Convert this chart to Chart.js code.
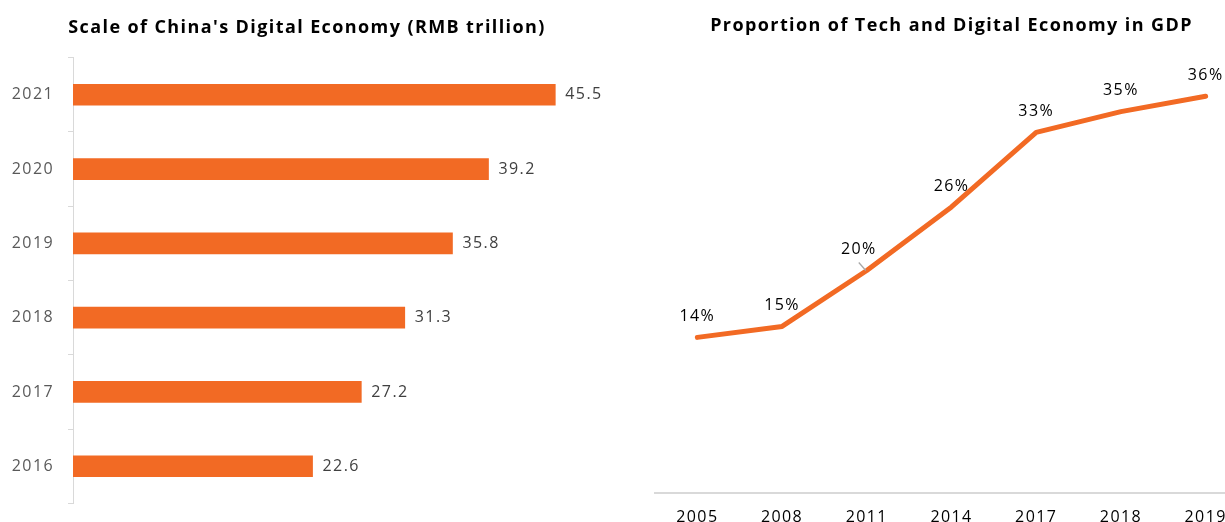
<!DOCTYPE html>
<html>
<head>
<meta charset="utf-8">
<script src="https://cdn.jsdelivr.net/npm/chart.js@4/dist/chart.umd.min.js"></script>
<style>
  html, body { margin: 0; padding: 0; background: #fff; overflow: hidden; }
  #wrap { position: relative; width: 1225px; height: 522px; overflow: hidden; }
  #scaleBox { position: absolute; left: 0; top: 0; width: 620px; height: 527px; }
  #shareBox { position: absolute; left: 640px; top: 0; width: 623px; height: 540px; }
</style>
</head>
<body>
<div id="wrap">
  <div id="scaleBox"><canvas id="scaleChart"></canvas></div>
  <div id="shareBox"><canvas id="shareChart"></canvas></div>
</div>
<script>
// left chart: scale of digital economy
const scaleYears = ["2016", "2017", "2018", "2019", "2020", "2021"];
const scaleValues = [22.6, 27.2, 31.3, 35.8, 39.2, 45.5];

// right chart: share of GDP
const shareYears = ["2005", "2008", "2011", "2014", "2017", "2018", "2019"];
const shareValues = [14.2, 15.2, 20.3, 26.1, 32.9, 34.8, 36.2];

const ORANGE = "#F26A24";
const FONT = "'Open Sans', 'DejaVu Sans', sans-serif";

// the original text is a bit wide, spread it out
const wideText = {
  id: "wideText",
  beforeLayout(chart) {
    chart.ctx.letterSpacing = "1.4px";
  },
  beforeDraw(chart) {
    chart.ctx.letterSpacing = "1.4px";
  },
};

// simple value labels, no datalabels plugin available
const valueLabels = {
  id: "valueLabels",
  afterDatasetsDraw(chart, args, opts) {
    const ctx = chart.ctx;
    const meta = chart.getDatasetMeta(0);
    const values = chart.data.datasets[0].data;
    ctx.save();
    ctx.font = "16px " + FONT;
    ctx.fillStyle = opts.color;
    ctx.textBaseline = "middle";
    meta.data.forEach(function (el, i) {
      if (opts.mode === "bar") {
        ctx.textAlign = "left";
        ctx.fillText(values[i].toFixed(1), el.x + 10, el.y);
      } else {
        const shift = (opts.shift && opts.shift[i]) || 0;
        ctx.textAlign = "center";
        ctx.fillText(Math.round(values[i]) + "%", el.x + shift, el.y - 21);
        if (shift) {
          // leader line for shifted label
          ctx.strokeStyle = "#a6a6a6";
          ctx.lineWidth = 1.2;
          ctx.beginPath();
          ctx.moveTo(el.x - 1, el.y);
          ctx.lineTo(el.x + shift, el.y - 8);
          ctx.stroke();
        }
      }
    });
    ctx.restore();
  },
};

document.addEventListener("DOMContentLoaded", function () {
  const scaleChartJS = document.getElementById("scaleChart");

  new Chart(scaleChartJS, {
    type: "bar",
    data: {
      labels: scaleYears,
      datasets: [
        {
          data: scaleValues,
          backgroundColor: ORANGE,
          barThickness: 21,
        },
      ],
    },
    options: {
      indexAxis: "y",
      responsive: true,
      maintainAspectRatio: false,
      animation: false,
      layout: {
        padding: { left: 11, right: 17, top: 0, bottom: 8 },
      },
      scales: {
        x: {
          display: false,
          min: 0,
          max: 50,
        },
        y: {
          reverse: true,
          afterFit: function (scale) {
            scale.width = 62;
          },
          grid: {
            offset: true,
            drawOnChartArea: false,
            tickLength: 5,
            color: "#d9d9d9",
          },
          border: { color: "#d9d9d9" },
          ticks: {
            color: "#595959",
            padding: 14,
            font: { family: FONT, size: 16 },
          },
        },
      },
      plugins: {
        title: {
          display: true,
          text: "Scale of China's Digital Economy (RMB trillion)",
          color: "#000",
          padding: { top: 17, bottom: 19 },
          font: { family: FONT, size: 18, weight: "bold" },
        },
        legend: { display: false },
        tooltip: { enabled: false },
        valueLabels: { mode: "bar", color: "#404040" },
      },
    },
    plugins: [wideText, valueLabels],
  });

  const shareChartJS = document.getElementById("shareChart");

  new Chart(shareChartJS, {
    type: "line",
    data: {
      labels: shareYears,
      datasets: [
        {
          data: shareValues,
          borderColor: ORANGE,
          borderWidth: 5,
          borderCapStyle: "round",
          borderJoinStyle: "round",
          pointRadius: 0,
          tension: 0,
        },
      ],
    },
    options: {
      responsive: true,
      maintainAspectRatio: false,
      animation: false,
      layout: {
        padding: { left: 15, right: 15, top: 0, bottom: 7 },
      },
      scales: {
        y: {
          display: false,
          min: 0,
          max: 40,
        },
        x: {
          offset: true,
          afterFit: function (scale) {
            scale.height = 40;
          },
          grid: { display: false },
          border: { color: "#d9d9d9", width: 2 },
          ticks: {
            color: "#000",
            padding: 7,
            maxRotation: 0,
            font: { family: FONT, size: 16 },
          },
        },
      },
      plugins: {
        title: {
          display: true,
          text: "Proportion of Tech and Digital Economy in GDP",
          color: "#000",
          padding: { top: 15, bottom: 18 },
          font: { family: FONT, size: 18, weight: "bold" },
        },
        legend: { display: false },
        tooltip: { enabled: false },
        valueLabels: { mode: "line", color: "#000", shift: { 2: -8 } },
      },
    },
    plugins: [wideText, valueLabels],
  });
});
</script>
</body>
</html>
